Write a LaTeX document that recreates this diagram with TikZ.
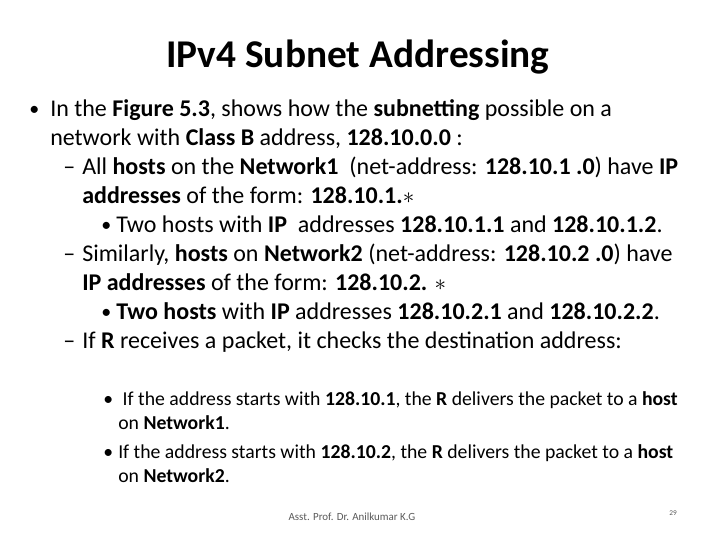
\documentclass[tikz,border=0pt]{standalone}
\usepackage{fontspec}
\setmainfont{Carlito}
\begin{document}
\begin{tikzpicture}[x=0.75pt,y=-0.75pt,
  t/.style={anchor=base west,inner sep=0pt},
  l1/.style={t,font=\fontsize{18}{21}\selectfont},
  l3/.style={t,font=\fontsize{14.8}{17}\selectfont}]
\useasboundingbox (0,0) rectangle (720,540);
\node[anchor=base,inner sep=0pt,font=\fontsize{29.5}{34}\selectfont\bfseries] (title) at (358,67) {IPv4 Subnet Addressing};
\node[l1,font=\fontsize{15}{18}\selectfont] (b1) at (29,115) {•};
\node[l1] (a1) at (50,116) {In the \textbf{Figure 5.3}, shows how the \textbf{subnetting} possible on a};
\node[l1] (a2) at (50,145) {network with \textbf{Class B} address, \textbf{128.10.0.0} :};
\node[l1] (d1) at (63,174) {–};
\node[l1] (a3) at (82,174) {All \textbf{hosts} on the \textbf{Network1} \ (net-address: \textbf{128.10.1 .0}) have \textbf{IP}};
\node[l1] (a4) at (82,203) {\textbf{addresses} of the form: \textbf{128.10.1.$\ast$}};
\node[l1,font=\fontsize{15}{18}\selectfont] (b2) at (101,231) {•};
\node[l1] (a5) at (116,232) {Two hosts with \textbf{IP} \ addresses \textbf{128.10.1.1} and \textbf{128.10.1.2}.};
\node[l1] (d2) at (63,261) {–};
\node[l1] (a6) at (82,261) {Similarly, \textbf{hosts} on \textbf{Network2} (net-address: \textbf{128.10.2 .0}) have};
\node[l1] (a7) at (82,290) {\textbf{IP addresses} of the form: \textbf{128.10.2. $\ast$}};
\node[l1,font=\fontsize{15}{18}\selectfont] (b3) at (101,318) {•};
\node[l1] (a8) at (116,319) {\textbf{Two hosts} with \textbf{IP} addresses \textbf{128.10.2.1} and \textbf{128.10.2.2}.};
\node[l1] (d3) at (63,348) {–};
\node[l1] (a9) at (82,348) {If \textbf{R} receives a packet, it checks the destination address:};
\node[l3] (b4) at (103,405) {•};
\node[l3] (c1) at (118,405) {\ If the address starts with \textbf{128.10.1}, the \textbf{R} delivers the packet to a \textbf{host}};
\node[l3] (c2) at (118,429) {on \textbf{Network1}.};
\node[l3] (b5) at (103,458) {•};
\node[l3] (c3) at (118,458) {If the address starts with \textbf{128.10.2}, the \textbf{R} delivers the packet to a \textbf{host}};
\node[l3] (c4) at (118,482) {on \textbf{Network2}.};
\node[anchor=base,inner sep=0pt,font=\fontsize{8.2}{10}\selectfont,text=gray!70!black] (foot) at (352,520) {Asst. Prof. Dr. Anilkumar K.G};
\node[anchor=base,inner sep=0pt,font=\fontsize{5.5}{7}\selectfont,text=gray!70!black] (pg) at (673,515) {29};
\end{tikzpicture}
\end{document}
